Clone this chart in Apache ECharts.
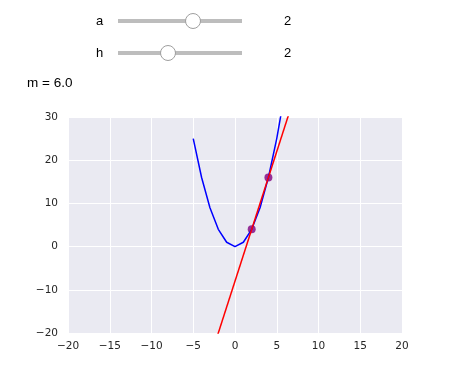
<!DOCTYPE html>
<html><head><meta charset="utf-8">
<script src="https://cdn.jsdelivr.net/npm/echarts@6/dist/echarts.min.js"></script>
<style>html,body{margin:0;padding:0;background:#fff}#c{width:456px;height:369px}</style>
</head><body><div id="c"></div>
<script>
// Data
var parabolaX = [-5,-4,-3,-2,-1,0,1,2,3,4,5,6];
var parabolaY = [25,16,9,4,1,0,1,4,9,16,25,36];
var secantX = [-20, 20];
var secantY = [-128, 112];
var pointsX = [2, 4];
var pointsY = [4, 16];
var sliderA = 2, sliderH = 2;
var slope = 6.0;

function pairs(xs, ys){ return xs.map(function(x,i){return [x, ys[i]];}); }
function fmt(v){ return String(v).replace('-', '\u2212'); }

var chart = echarts.init(document.getElementById('c'));
var trackL = 118, trackR = 242;
var knobA = 193, knobH = 168;

chart.setOption({
  animation: false,
  grid: {left: 68, right: 54, top: 117, bottom: 36, show: true, backgroundColor: '#EAEAF2', borderWidth: 0},
  xAxis: {type: 'value', min: -20, max: 20, interval: 5,
    axisLine: {show: false}, axisTick: {show: false},
    splitLine: {lineStyle: {color: '#fff', width: 1}},
    axisLabel: {formatter: fmt, color: '#262626', fontFamily: 'DejaVu Sans', fontSize: 10.5, margin: 8}},
  yAxis: {type: 'value', min: -20, max: 30, interval: 10,
    axisLine: {show: false}, axisTick: {show: false},
    splitLine: {lineStyle: {color: '#fff', width: 1}},
    axisLabel: {formatter: fmt, color: '#262626', fontFamily: 'DejaVu Sans', fontSize: 10.5, margin: 10}},
  series: [
    {type: 'line', data: pairs(parabolaX, parabolaY), showSymbol: false, clip: true,
     lineStyle: {color: '#0000ff', width: 1.5}},
    {type: 'line', data: pairs(secantX, secantY), showSymbol: false, clip: true,
     lineStyle: {color: '#ff0000', width: 1.5}},
    {type: 'scatter', data: pairs(pointsX, pointsY), symbolSize: 8,
     itemStyle: {color: '#800080'}}
  ],
  graphic: [
    {type: 'text', left: 96, top: 15, style: {text: 'a', font: '13px "Liberation Sans", Arial', fill: '#000'}},
    {type: 'text', left: 96, top: 47, style: {text: 'h', font: '13px "Liberation Sans", Arial', fill: '#000'}},
    {type: 'rect', shape: {x: trackL, y: 19, width: trackR - trackL, height: 4}, style: {fill: '#bdbdbd'}},
    {type: 'rect', shape: {x: trackL, y: 51, width: trackR - trackL, height: 4}, style: {fill: '#bdbdbd'}},
    {type: 'circle', shape: {cx: knobA, cy: 21, r: 7.5}, style: {fill: '#fff', stroke: '#9e9e9e', lineWidth: 1}},
    {type: 'circle', shape: {cx: knobH, cy: 53, r: 7.5}, style: {fill: '#fff', stroke: '#9e9e9e', lineWidth: 1}},
    {type: 'text', left: 284, top: 15, style: {text: String(sliderA), font: '13px "Liberation Sans", Arial', fill: '#000'}},
    {type: 'text', left: 284, top: 47, style: {text: String(sliderH), font: '13px "Liberation Sans", Arial', fill: '#000'}},
    {type: 'text', left: 27, top: 76, style: {text: 'm = ' + slope.toFixed(1), font: '13.5px "Liberation Sans", Arial', fill: '#000'}}
  ]
});
</script></body></html>
